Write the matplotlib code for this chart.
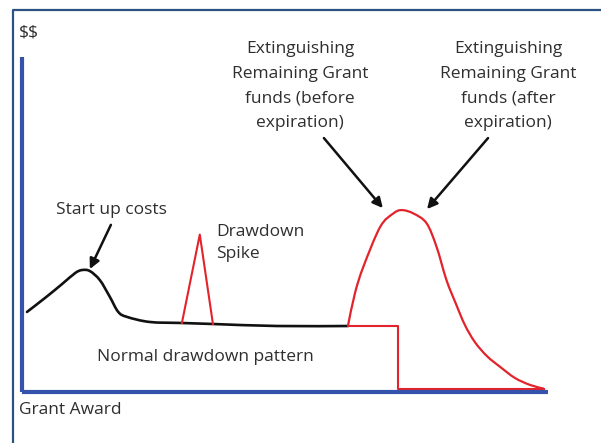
import matplotlib
matplotlib.use("Agg")
import matplotlib.pyplot as plt
import numpy as np
from matplotlib.lines import Line2D
from matplotlib.path import Path
from matplotlib.patches import PathPatch

# schematic values, x = time (0-100), y = dollars (0-100)
base_x = [0.95, 4.4, 7.6, 10.1, 11.4, 12.9, 14.8, 16.7, 18.3, 20.0, 24.3, 30.4, 36.3, 48.5, 62.0]
base_y = [23.9, 28.1, 32.2, 35.5, 36.4, 36.1, 33.4, 28.4, 23.9, 22.4, 20.9, 20.6, 20.3, 19.7, 19.7]

spike_x = [30.4, 33.8, 36.3]
spike_y = [20.6, 47.0, 20.3]

peak_x = [62.0, 63.3, 64.9, 68.1, 70.6, 72.2, 74.4, 76.9, 78.8, 80.7, 82.5, 84.2,
          86.1, 88.4, 90.9, 93.7, 96.6, 99.2]
peak_y = [20.0, 29.5, 37.4, 49.3, 53.3, 54.3, 53.3, 50.4, 43.4, 33.4, 26.3, 20.0,
          14.9, 10.7, 7.5, 4.2, 2.1, 1.0]

step_x = [62.0, 71.5, 71.5, 99.2]
step_y = [19.7, 19.7, 0.9, 0.9]

W, H = 601, 443
BLUE = "#3552ad"
RED = "#e3232b"
TXT = "#2e2e2e"
FONT = "Open Sans"


def smooth(xs, ys):
    # catmull-rom through the read points, drawn as bezier segments
    p = np.column_stack([xs, ys]).astype(float)
    n = len(p)
    verts = [p[0]]
    codes = [Path.MOVETO]
    for i in range(n - 1):
        p0 = p[i - 1] if i > 0 else p[i]
        p3 = p[i + 2] if i + 2 < n else p[i + 1]
        verts += [p[i] + (p[i + 1] - p0) / 6, p[i + 1] - (p3 - p[i]) / 6, p[i + 1]]
        codes += [Path.CURVE4] * 3
    return Path(verts, codes)


fig = plt.figure(figsize=(W / 100, H / 100), dpi=100)
fig.patch.set_facecolor("white")

# outer frame (only left and top visible)
fig.add_artist(Line2D([13 / W, 13 / W, 1], [0, 1 - 10 / H, 1 - 10 / H],
                      transform=fig.transFigure, color="#2b5283", lw=1.6))

ax = fig.add_axes([22 / W, (H - 392) / H, (548 - 22) / W, (392 - 57) / H])
ax.set_xlim(0, 100)
ax.set_ylim(0, 100)
for s in ["top", "right"]:
    ax.spines[s].set_visible(False)
for s in ["left", "bottom"]:
    ax.spines[s].set_color(BLUE)
    ax.spines[s].set_linewidth(3.0)
    ax.spines[s].set_capstyle("butt")
ax.set_xticks([])
ax.set_yticks([])

ax.add_patch(PathPatch(smooth(base_x, base_y), fill=False, edgecolor="#111111",
                       lw=1.9, capstyle="round"))
ax.plot(spike_x, spike_y, color=RED, lw=1.5)
ax.add_patch(PathPatch(smooth(peak_x, peak_y), fill=False, edgecolor=RED,
                       lw=1.6, clip_on=False))
ax.plot(step_x, step_y, color=RED, lw=1.5, clip_on=False)

arrow = dict(arrowstyle="-|>", color="#111111", lw=1.8, mutation_scale=15,
             shrinkA=0, shrinkB=0)
ax.annotate("", xy=(12.9, 36.7), xytext=(16.9, 49.9), arrowprops=arrow)
ax.annotate("", xy=(68.6, 54.9), xytext=(57.4, 75.8), arrowprops=arrow)
ax.annotate("", xy=(77.0, 54.6), xytext=(88.6, 75.8), arrowprops=arrow)


def label(px, py, s, ha="center", ls=1.0):
    fig.text(px / W, 1 - py / H, s, ha=ha, va="center", color=TXT,
             fontsize=12.5, family=FONT, linespacing=ls)


label(19, 33, r"\$\$", ha="left")
label(19, 410, "Grant Award", ha="left")
label(111, 210, "Start up costs")
label(216, 243, "Drawdown\nSpike", ha="left", ls=1.45)
label(205, 357, "Normal drawdown pattern")
label(300, 86, "Extinguishing\nRemaining Grant\nfunds (before\nexpiration)", ls=1.7)
label(508, 86, "Extinguishing\nRemaining Grant\nfunds (after\nexpiration)", ls=1.7)

fig.savefig("out.png", dpi=100)
